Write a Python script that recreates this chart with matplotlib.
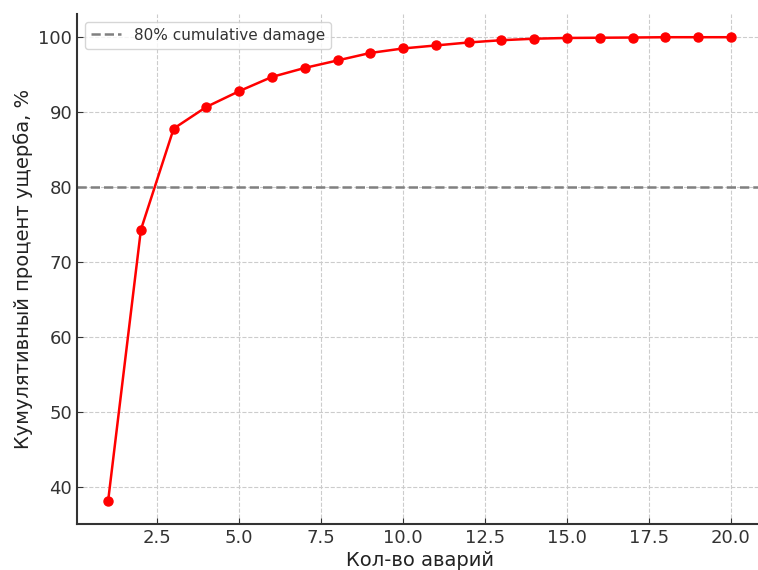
import numpy as np
import matplotlib
matplotlib.use('Agg')
import matplotlib.pyplot as plt

# cumulative damage share by number of accidents
n_accidents = list(range(1, 21))
cum_damage = [38.1, 74.3, 87.8, 90.7, 92.8, 94.7, 95.9, 96.9, 97.9, 98.5,
              98.9, 99.3, 99.6, 99.8, 99.9, 99.93, 99.96, 100.0, 100.0, 100.0]
threshold = 80

fig = plt.figure(figsize=(7.58, 5.70), dpi=100)
ax = fig.add_axes([77/758, 46/570, 685/758, 510/570])

ax.plot(n_accidents, cum_damage, color='red', marker='o', markersize=6.5, linewidth=1.8)
ax.axhline(threshold, color='grey', linestyle='--', linewidth=1.8, label='80% cumulative damage')

ax.set_xlim(0.05, 20.95)
ax.set_ylim(35.0, 103.1)
ax.set_xticks([2.5, 5.0, 7.5, 10.0, 12.5, 15.0, 17.5, 20.0])
ax.grid(True, linestyle='--', color='#cccccc', linewidth=0.8)
ax.set_xlabel('Кол-во аварий', fontsize=14, color='#222222', labelpad=3)
ax.set_ylabel('Кумулятивный процент ущерба, %', fontsize=14, color='#222222')
ax.tick_params(direction='in', labelsize=13, colors='#333333', length=4)
for s in ['top', 'right']:
    ax.spines[s].set_visible(False)
for s in ['left', 'bottom']:
    ax.spines[s].set_linewidth(1.5)
    ax.spines[s].set_color('#333333')
leg = ax.legend(loc='upper left', fontsize=11, handlelength=2.0)
for t in leg.get_texts():
    t.set_color('#333333')

fig.savefig('out.png', dpi=100)
